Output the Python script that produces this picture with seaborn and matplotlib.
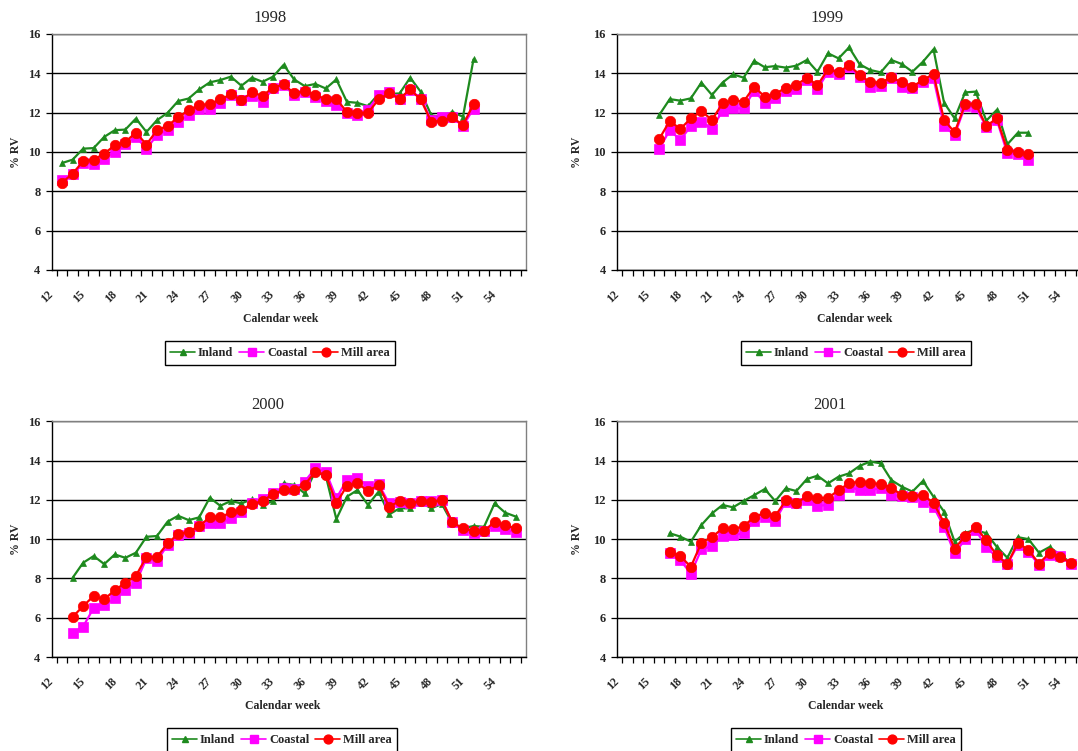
import numpy as np
import pandas as pd
import matplotlib
matplotlib.use("Agg")
import matplotlib.pyplot as plt
from matplotlib.lines import Line2D
from matplotlib.ticker import FixedLocator
import seaborn as sns

# ---------------- data ----------------
series_names = ["Inland", "Coastal", "Mill area"]
tick_weeks = list(range(12, 55, 3))
y_ticks = [4, 6, 8, 10, 12, 14, 16]

weeks_1998 = list(range(13, 53))
inland_1998 = [9.44, 9.61, 10.17, 10.2, 10.77, 11.11, 11.14, 11.7, 11.02, 11.62, 11.99, 12.59, 12.72, 13.18,
               13.54, 13.66, 13.83, 13.37, 13.78, 13.57, 13.83, 14.43, 13.69, 13.35, 13.46, 13.23, 13.69,
               12.55, 12.5, 12.33, 12.95, 12.95, 12.98, 13.78, 13.06, 11.87, 11.76, 12.04, 11.79, 14.71]
coastal_1998 = [8.56, 8.9, 9.44, 9.41, 9.66, 10.0, 10.43, 10.77, 10.17, 10.85, 11.11, 11.53, 11.87, 12.21,
                12.21, 12.5, 12.89, 12.64, 12.86, 12.55, 13.23, 13.4, 12.89, 13.06, 12.81, 12.6, 12.38,
                11.96, 11.87, 12.13, 12.89, 13.06, 12.72, 13.15, 12.72, 11.62, 11.76, 11.76, 11.31, 12.21]
mill_1998 = [8.44, 8.9, 9.53, 9.61, 9.92, 10.34, 10.51, 10.99, 10.38, 11.11, 11.33, 11.76, 12.13, 12.38,
             12.44, 12.67, 12.93, 12.64, 13.03, 12.86, 13.27, 13.44, 12.98, 13.1, 12.89, 12.69, 12.69,
             12.04, 11.96, 11.99, 12.67, 12.98, 12.72, 13.18, 12.67, 11.53, 11.59, 11.76, 11.36, 12.44]

weeks_1999 = list(range(16, 52))
inland_1999 = [11.88, 12.69, 12.61, 12.73, 13.53, 12.9, 13.53, 13.95, 13.78, 14.63, 14.31, 14.37, 14.29,
               14.39, 14.68, 14.08, 15.02, 14.76, 15.32, 14.46, 14.17, 14.05, 14.68, 14.47, 14.08, 14.59,
               15.22, 12.51, 11.71, 13.03, 13.07, 11.59, 12.14, 10.39, 10.98, 10.98]
coastal_1999 = [10.14, 11.12, 10.61, 11.32, 11.54, 11.17, 12.1, 12.22, 12.22, 13.12, 12.51, 12.73, 13.12,
                13.19, 13.66, 13.19, 14.08, 13.97, 14.31, 13.83, 13.32, 13.37, 13.75, 13.32, 13.24, 13.58,
                13.75, 11.32, 10.86, 12.34, 12.27, 11.29, 11.63, 9.93, 9.9, 9.59]
mill_1999 = [10.66, 11.58, 11.17, 11.71, 12.08, 11.63, 12.47, 12.64, 12.56, 13.32, 12.81, 12.95, 13.27,
             13.41, 13.78, 13.39, 14.2, 14.05, 14.42, 13.92, 13.54, 13.53, 13.8, 13.54, 13.32, 13.66,
             13.97, 11.63, 11.0, 12.42, 12.44, 11.32, 11.71, 10.1, 10.02, 9.9]

weeks_2000 = list(range(14, 57))
inland_2000 = [8.03, 8.8, 9.14, 8.73, 9.22, 9.05, 9.31, 10.12, 10.16, 10.89, 11.19, 10.97, 11.11, 12.11,
               11.7, 11.94, 11.82, 12.03, 11.74, 11.94, 12.84, 12.76, 12.33, 13.44, 13.22, 11.02, 12.16,
               12.5, 11.74, 12.42, 11.26, 11.57, 11.57, 11.86, 11.57, 11.79, 10.8, 10.55, 10.67, 10.63,
               11.82, 11.35, 11.15]
coastal_2000 = [5.2, 5.55, 6.5, 6.64, 6.98, 7.4, 7.78, 9.02, 8.9, 9.7, 10.21, 10.33, 10.67, 10.8, 10.8,
                11.06, 11.4, 11.86, 12.03, 12.37, 12.59, 12.54, 12.93, 13.61, 13.44, 12.08, 13.01, 13.1,
                12.71, 12.81, 11.82, 11.91, 11.82, 11.96, 11.96, 12.0, 10.85, 10.46, 10.29, 10.43, 10.67,
                10.5, 10.35]
mill_2000 = [6.04, 6.59, 7.11, 6.94, 7.4, 7.78, 8.13, 9.1, 9.1, 9.78, 10.26, 10.38, 10.67, 11.11, 11.11,
             11.36, 11.48, 11.79, 11.94, 12.3, 12.5, 12.5, 12.76, 13.44, 13.27, 11.82, 12.72, 12.84, 12.45,
             12.76, 11.65, 11.94, 11.82, 11.94, 11.91, 11.99, 10.85, 10.55, 10.41, 10.41, 10.89, 10.7,
             10.55]

weeks_2001 = list(range(17, 56))
inland_2001 = [10.3, 10.13, 9.87, 10.72, 11.31, 11.74, 11.62, 11.94, 12.24, 12.55, 11.94, 12.59, 12.45,
               13.06, 13.23, 12.84, 13.18, 13.35, 13.73, 13.95, 13.86, 13.01, 12.67, 12.42, 12.96, 12.16,
               11.4, 9.87, 10.33, 10.46, 10.3, 9.61, 9.05, 10.1, 10.0, 9.31, 9.6, 9.2, 8.8]
coastal_2001 = [9.27, 8.93, 8.25, 9.48, 9.65, 10.16, 10.21, 10.29, 10.94, 11.14, 10.94, 11.91, 11.82, 12.0,
                11.7, 11.74, 12.24, 12.67, 12.5, 12.5, 12.59, 12.24, 12.2, 12.13, 11.91, 11.65, 10.63,
                9.27, 9.99, 10.46, 9.61, 9.07, 8.73, 9.7, 9.36, 8.69, 9.2, 9.15, 8.75]
mill_2001 = [9.36, 9.14, 8.59, 9.82, 10.1, 10.55, 10.5, 10.67, 11.11, 11.35, 11.18, 11.97, 11.82, 12.2,
             12.09, 12.09, 12.5, 12.84, 12.93, 12.84, 12.81, 12.62, 12.24, 12.2, 12.24, 11.85, 10.83,
             9.52, 10.15, 10.62, 9.94, 9.18, 8.73, 9.82, 9.44, 8.76, 9.3, 9.1, 8.8]

panels = [
    ("1998", weeks_1998, inland_1998, coastal_1998, mill_1998),
    ("1999", weeks_1999, inland_1999, coastal_1999, mill_1999),
    ("2000", weeks_2000, inland_2000, coastal_2000, mill_2000),
    ("2001", weeks_2001, inland_2001, coastal_2001, mill_2001),
]

# ---------------- style ----------------
sns.set_theme(style="white")
plt.rcParams["font.family"] = ["Liberation Serif", "DejaVu Serif"]

styles = {
    "Inland": dict(color="#1E8A1E", marker="^", markersize=4.5),
    "Coastal": dict(color="#FF00FF", marker="s", markersize=7),
    "Mill area": dict(color="#FF0000", marker="o", markersize=7.5),
}

W, H = 1078, 751
fig = plt.figure(figsize=(W / 100, H / 100), dpi=100)

XMIN, XMAX = 12.0, 57.0
px_per_week = 10.55
ax_w_px = (XMAX - XMIN) * px_per_week

# per panel: left px (x=12), top px, bottom px, title x, xlabel (x,y), legend centre (x,y), ylabel x
layout = [
    dict(l=51.5, t=34, b=270, tx=270, xl=(281, 319), lg=(280, 353), yl=22),
    dict(l=617, t=34, b=270, tx=827, xl=(855, 319), lg=(856, 353), yl=583),
    dict(l=51.5, t=421.3, b=657, tx=268, xl=(283, 706), lg=(282, 740), yl=22),
    dict(l=617, t=421.3, b=657, tx=830, xl=(846, 706), lg=(846, 740), yl=583),
]

for (year, weeks, inl, coa, mil), g in zip(panels, layout):
    lpx, tpx, bpx = g["l"], g["t"], g["b"]
    hpx = bpx - tpx
    ax = fig.add_axes([lpx / W, 1 - bpx / H, ax_w_px / W, hpx / H])
    df = pd.DataFrame({
        "week": weeks * 3,
        "value": inl + coa + mil,
        "series": ["Inland"] * len(weeks) + ["Coastal"] * len(weeks) + ["Mill area"] * len(weeks),
    })
    for name in series_names:
        st = styles[name]
        sns.lineplot(data=df[df["series"] == name], x="week", y="value", ax=ax,
                     color=st["color"], marker=st["marker"], markersize=st["markersize"],
                     markeredgecolor=st["color"], markeredgewidth=0.5, linewidth=1.6,
                     estimator=None, errorbar=None, legend=False, clip_on=False)

    ax.set_xlim(XMIN, XMAX)
    ax.set_ylim(4, 16)
    ax.yaxis.set_major_locator(FixedLocator(y_ticks))
    ax.xaxis.set_major_locator(FixedLocator(tick_weeks))
    ax.xaxis.set_minor_locator(FixedLocator([w + 0.5 for w in range(12, 57)]))
    ax.set_xticklabels([str(t) for t in tick_weeks], rotation=45, ha="right", va="center",
                       rotation_mode="anchor", fontsize=8.5, fontweight="bold")
    ax.set_yticklabels([str(t) for t in y_ticks], fontsize=9, fontweight="bold")
    ax.tick_params(axis="x", which="major", length=0, pad=16)
    ax.tick_params(axis="x", which="minor", length=4, width=0.9, color="black", direction="out", bottom=True)
    ax.tick_params(axis="y", which="major", length=4, width=0.9, color="black", direction="out",
                   left=True, pad=4)
    ax.grid(axis="y", color="black", linewidth=1.0)
    ax.grid(axis="x", visible=False)
    ax.set_axisbelow(True)
    for s in ["top", "right"]:
        ax.spines[s].set_color("#808080")
        ax.spines[s].set_linewidth(1.0)
    for s in ["left", "bottom"]:
        ax.spines[s].set_color("black")
        ax.spines[s].set_linewidth(1.0)

    ax.set_title(year, fontsize=12, x=(g["tx"] - lpx) / ax_w_px, y=1.0, pad=9)
    ax.set_xlabel("Calendar week", fontsize=8.5, fontweight="bold")
    ax.set_ylabel("% RV", fontsize=8.5, fontweight="bold")
    ax.xaxis.set_label_coords((g["xl"][0] - lpx) / ax_w_px, (bpx - g["xl"][1]) / hpx)
    ax.xaxis.label.set_va("center")
    ax.yaxis.set_label_coords((g["yl"] - lpx) / ax_w_px, 0.5)

    handles = [Line2D([], [], color=styles[n]["color"], marker=styles[n]["marker"],
                      markersize=styles[n]["markersize"] * 0.85, markeredgecolor=styles[n]["color"],
                      linewidth=1.2) for n in series_names]
    leg = ax.legend(handles, series_names, loc="center", ncol=3,
                    bbox_to_anchor=((g["lg"][0] - lpx) / ax_w_px, (bpx - g["lg"][1]) / hpx),
                    frameon=True, fancybox=False, edgecolor="black", framealpha=1,
                    prop={"size": 9, "weight": "bold"}, handlelength=2.0, handletextpad=0.2,
                    columnspacing=0.5, borderpad=0.45)
    leg.get_frame().set_linewidth(1.0)

fig.savefig("out.png", dpi=100)
